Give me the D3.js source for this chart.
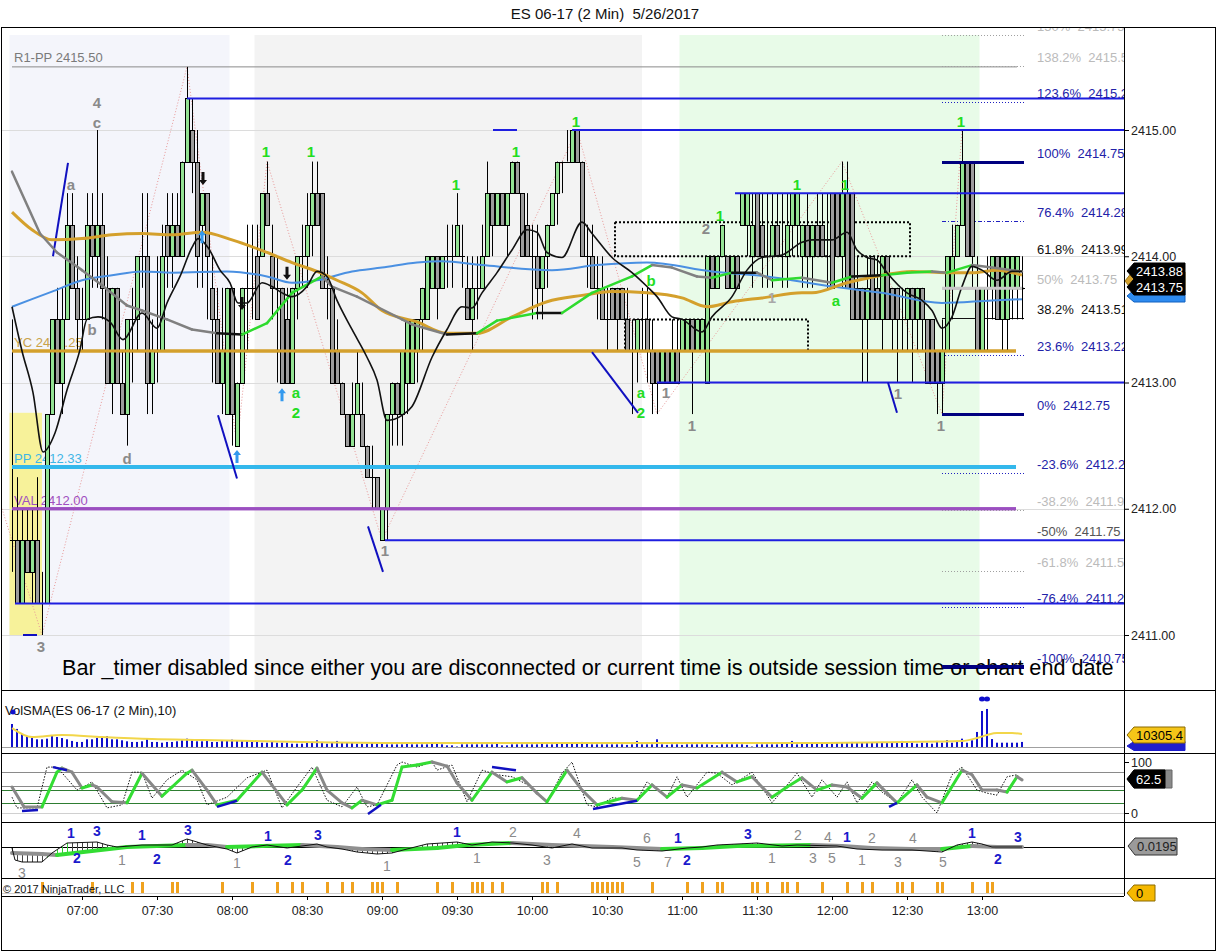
<!DOCTYPE html>
<html><head><meta charset="utf-8">
<script src="https://cdn.jsdelivr.net/npm/d3@7/dist/d3.min.js"></script>
<style>
html,body{margin:0;padding:0;background:#fff;}
svg{display:block;font-family:Arial,"Liberation Sans",Helvetica,sans-serif;}
text{white-space:pre;}
</style></head><body>
<svg id="chart" width="1217" height="952"></svg>
<script>
// ---------------- DATA ----------------
const barOpen=[2411.75,2411.75,2411.25,2411.75,2411.5,2411.75,2411.25,2411.25,2412.75,2413.5,
2413.0,2413.5,2414.25,2413.75,2413.5,2413.5,2414.25,2414.0,2414.25,2413.75,
2413.0,2413.75,2413.0,2412.75,2413.5,2413.5,2414.0,2414.0,2413.0,2413.25,
2413.25,2414.25,2414.0,2414.25,2414.0,2414.75,2415.0,2414.75,2414.25,2414.5,
2413.75,2413.5,2413.0,2412.75,2413.75,2412.5,2413.0,2413.75,2413.75,2414.0,
2414.0,2414.5,2414.0,2413.75,2413.75,2413.5,2413.0,2413.75,2414.0,2414.0,
2414.25,2414.5,2414.5,2413.75,2413.75,2413.25,2413.0,2412.75,2412.5,2412.75,
2412.75,2412.5,2412.25,2412.25,2411.75,2412.0,2412.75,2413.0,2412.75,2413.0,
2413.0,2413.25,2413.5,2413.5,2413.75,2414.0,2413.75,2414.0,2414.0,2414.0,
2414.0,2413.75,2413.5,2413.75,2413.75,2414.0,2414.5,2414.25,2414.5,2414.25,
2414.5,2414.75,2414.5,2414.25,2414.0,2414.0,2413.75,2414.0,2414.25,2414.5,
2414.75,2414.75,2414.75,2415.0,2414.75,2414.0,2414.0,2413.75,2413.75,2413.5,
2413.75,2413.75,2413.75,2413.5,2413.25,2413.25,2413.5,2413.5,2413.25,2413.25,
2413.0,2413.25,2413.0,2413.25,2413.25,2413.25,2413.5,2413.25,2413.25,2413.0,
2414.0,2413.75,2414.0,2414.0,2413.75,2414.0,2414.25,2414.25,2414.0,2414.5,
2414.25,2414.0,2414.0,2414.25,2414.0,2414.0,2414.25,2414.25,2414.0,2414.25,
2414.0,2414.25,2414.25,2414.0,2414.5,2414.5,2414.0,2414.5,2414.5,2413.75,
2413.75,2413.5,2414.0,2413.75,2413.5,2414.0,2413.75,2413.75,2413.5,2413.5,
2413.75,2413.5,2413.75,2413.5,2413.5,2413.25,2413.0,2413.25,2413.75,2414.0,
2414.25,2414.75,2414.75,2413.75,2413.25,2413.75,2413.75,2414.0,2413.5,2413.5,
2413.75,2413.75,2413.75];
const barHigh=[2413.5,2412.25,2412.0,2412.0,2412.0,2412.25,2411.5,2412.75,2413.5,2413.75,
2413.75,2414.5,2414.5,2414.0,2413.75,2414.5,2414.5,2415.0,2414.5,2414.0,
2413.75,2413.75,2413.25,2413.5,2413.75,2414.0,2414.5,2414.5,2413.5,2414.0,
2414.25,2414.5,2414.5,2414.5,2414.75,2415.5,2415.25,2415.0,2414.5,2414.5,
2414.0,2413.75,2413.75,2413.75,2413.75,2413.0,2413.75,2414.25,2414.25,2414.25,
2414.5,2414.75,2414.25,2414.0,2413.75,2413.75,2413.75,2414.0,2414.25,2414.5,
2414.75,2414.75,2414.5,2414.0,2413.75,2413.5,2413.0,2412.75,2413.0,2413.25,
2413.0,2412.5,2412.5,2412.25,2412.0,2412.75,2413.0,2413.0,2413.25,2413.5,
2413.5,2413.5,2413.75,2414.0,2414.0,2414.0,2414.0,2414.25,2414.25,2414.5,
2414.25,2414.0,2414.0,2414.0,2414.25,2414.75,2414.5,2414.5,2414.5,2414.5,
2414.75,2414.75,2414.5,2414.5,2414.25,2414.25,2414.0,2414.25,2414.5,2414.75,
2414.75,2415.0,2415.0,2415.0,2414.75,2414.25,2414.25,2414.0,2414.0,2413.75,
2413.75,2413.75,2413.75,2413.75,2413.5,2413.5,2413.75,2413.75,2413.5,2413.25,
2413.25,2413.25,2413.5,2413.5,2413.5,2413.5,2413.5,2413.5,2413.5,2414.0,
2414.0,2414.0,2414.25,2414.0,2414.0,2414.0,2414.5,2414.5,2414.5,2414.5,
2414.5,2414.5,2414.5,2414.5,2414.5,2414.5,2414.5,2414.5,2414.25,2414.5,
2414.25,2414.5,2414.5,2414.5,2414.5,2414.5,2414.75,2414.75,2414.5,2414.0,
2413.75,2414.0,2414.0,2414.0,2414.0,2414.0,2413.75,2413.75,2413.75,2413.75,
2413.75,2413.75,2413.75,2413.5,2413.5,2413.25,2413.5,2414.0,2414.25,2414.25,
2415.0,2414.75,2414.75,2414.0,2413.75,2414.0,2414.0,2414.0,2414.0,2414.0,
2414.0,2414.0,2414.0];
const barLow=[2411.5,2411.25,2411.25,2411.5,2411.25,2411.25,2411.0,2411.25,2412.75,2413.0,
2412.75,2413.5,2413.75,2413.25,2413.25,2413.5,2413.75,2413.75,2413.5,2413.0,
2412.75,2413.0,2412.75,2412.5,2413.0,2413.25,2413.75,2412.75,2412.75,2413.0,
2413.25,2413.75,2413.75,2414.0,2414.0,2414.75,2414.5,2413.75,2413.75,2413.5,
2413.0,2413.0,2412.75,2412.75,2412.5,2412.5,2413.0,2413.25,2413.5,2413.5,
2414.0,2414.25,2413.5,2413.0,2413.0,2413.0,2413.0,2413.5,2413.75,2413.75,
2414.0,2414.25,2413.75,2413.5,2413.0,2413.0,2412.75,2412.5,2412.5,2412.75,
2412.5,2412.25,2412.0,2412.0,2411.75,2411.75,2412.5,2412.5,2412.5,2412.75,
2413.0,2413.0,2413.25,2413.5,2413.75,2413.5,2413.75,2413.75,2413.75,2414.0,
2413.75,2413.5,2413.25,2413.5,2413.75,2414.0,2414.0,2414.25,2414.25,2414.0,
2414.5,2414.5,2414.0,2414.0,2413.5,2413.5,2413.5,2413.75,2414.25,2414.25,
2414.5,2414.75,2414.75,2414.75,2414.0,2413.75,2413.75,2413.5,2413.5,2413.25,
2413.5,2413.25,2413.5,2413.25,2412.75,2413.0,2413.25,2413.0,2412.75,2412.75,
2413.0,2413.0,2413.0,2413.0,2413.25,2413.25,2412.75,2413.25,2413.25,2413.0,
2413.75,2413.75,2414.0,2413.75,2413.75,2413.75,2414.25,2414.0,2413.75,2414.0,
2413.75,2413.75,2413.75,2414.0,2413.75,2413.75,2414.0,2414.0,2413.75,2413.75,
2413.75,2414.0,2414.0,2413.75,2413.75,2414.0,2413.75,2413.75,2413.5,2413.5,
2413.0,2413.0,2413.5,2413.5,2413.25,2413.5,2413.25,2413.0,2413.25,2413.25,
2413.0,2413.25,2413.25,2413.0,2413.0,2412.75,2412.75,2413.25,2413.5,2414.0,
2414.25,2414.0,2413.75,2413.25,2413.25,2413.25,2413.5,2413.5,2413.25,2413.25,
2413.5,2413.5,2413.5];
const barClose=[2411.75,2411.25,2411.75,2411.5,2411.75,2411.25,2411.25,2412.75,2413.5,2413.0,
2413.5,2414.25,2413.75,2413.5,2413.5,2414.25,2414.0,2414.25,2413.75,2413.0,
2413.75,2413.0,2412.75,2413.5,2413.5,2414.0,2414.0,2413.0,2413.25,2413.25,
2414.0,2414.0,2414.25,2414.0,2414.75,2415.25,2414.75,2414.0,2414.5,2414.0,
2413.5,2413.0,2413.25,2413.75,2412.75,2413.0,2413.75,2413.75,2413.75,2413.5,
2414.5,2414.25,2413.75,2413.75,2413.0,2413.0,2413.75,2414.0,2414.0,2414.25,
2414.5,2414.25,2413.75,2413.75,2413.0,2413.0,2412.75,2412.5,2412.75,2413.0,
2412.5,2412.25,2412.25,2412.0,2412.0,2412.75,2413.0,2412.75,2413.25,2413.5,
2413.5,2413.5,2413.75,2414.0,2414.0,2413.75,2414.0,2414.0,2414.0,2414.25,
2414.0,2413.5,2413.75,2413.75,2414.0,2414.5,2414.25,2414.5,2414.25,2414.5,
2414.75,2414.5,2414.0,2414.0,2414.0,2413.75,2414.0,2414.25,2414.5,2414.75,
2414.75,2414.75,2415.0,2414.75,2414.0,2414.0,2413.75,2413.75,2413.5,2413.5,
2413.5,2413.5,2413.5,2413.25,2413.25,2413.5,2413.5,2413.25,2413.0,2413.0,
2413.25,2413.0,2413.25,2413.0,2413.5,2413.5,2413.25,2413.5,2413.5,2414.0,
2413.75,2414.0,2414.25,2413.75,2414.0,2413.75,2414.5,2414.5,2414.25,2414.0,
2414.0,2414.0,2414.25,2414.0,2414.0,2414.25,2414.5,2414.5,2414.25,2414.0,
2414.25,2414.0,2414.0,2414.0,2413.75,2414.0,2414.5,2413.75,2413.5,2413.5,
2413.5,2413.75,2413.5,2413.5,2414.0,2413.5,2413.5,2413.5,2413.5,2413.75,
2413.5,2413.75,2413.5,2413.0,2413.0,2413.0,2413.25,2414.0,2414.0,2414.25,
2414.75,2414.0,2414.0,2413.25,2413.75,2413.75,2414.0,2413.5,2414.0,2414.0,
2414.0,2414.0,2413.75];
const barVolume=[18200,14300,10300,8700,7100,6100,6100,6600,9500,7900,
7100,6100,4800,4000,4000,6100,6100,7100,7900,8700,
6100,6100,5300,4500,4000,4000,4500,6600,4000,4000,
3400,4000,4000,4500,5300,6600,5300,4500,4500,5300,
4000,4000,5300,5300,5800,5300,4800,4800,4000,4000,
3400,3400,4500,3400,3400,3400,2600,2600,2600,3400,
4000,5300,4000,2600,3400,4800,3400,3400,3400,2600,
2600,2600,3400,2600,2600,2100,2100,2100,2100,2600,
2100,2100,2100,2100,2600,2600,2100,1300,1300,400,
2100,2100,2100,2100,2100,2100,2100,2600,1300,1300,
2100,2100,2100,2100,2100,2100,2600,2100,2100,2600,
2600,3400,2600,2600,4000,2600,2100,2100,2100,2100,
2100,2100,2100,1700,2100,4800,2100,2100,2100,6100,
2100,1700,2100,2100,1700,2100,2100,2100,2100,2100,
1700,1300,2100,2100,2100,2100,2100,1700,400,2100,
2100,2100,2100,2100,2600,2600,4800,2100,2600,2600,
2600,2600,3400,2600,2600,3400,3400,3400,4000,3400,
3400,3400,3400,3400,3400,3400,3400,3400,4800,3400,
3400,2600,3400,3400,2600,4800,3400,5500,3400,4800,
6600,3400,5300,11900,28500,30100,6300,3400,3400,3400,
3400,3400,4000];

// moving averages: [bar index, price]
const maBlack=[[0,2413.6],[2,2413.25],[4.2,2412.92],[6.2,2412.45],[8.6,2412.6],[11,2412.94],[13.6,2413.26],[15,2413.5],[17.2,2413.52],[19.6,2413.48],[22.2,2413.34],[26,2413.55],[29,2413.43],[31,2413.63],[33.6,2413.84],[36,2414.07],[37.2,2414.14],[39.2,2414.07],[41.6,2413.89],[43.6,2413.79],[45.2,2413.63],[47,2413.63],[50,2413.79],[52,2413.76],[54,2413.71],[56,2413.68],[59,2413.76],[61,2413.88],[63,2413.84],[65,2413.65],[68,2413.42],[71,2413.2],[73,2413.02],[75,2412.7],[78,2412.74],[80,2412.81],[84,2413.2],[87,2413.42],[90,2413.6],[92,2413.59],[94,2413.71],[97,2413.87],[100,2414.05],[103,2414.21],[105,2414.19],[107,2414.03],[110,2413.99],[114,2414.27],[116,2414.18],[120,2413.99],[124,2413.87],[127,2413.76],[129,2413.68],[132,2413.52],[134,2413.5],[138,2413.4],[140,2413.52],[144,2413.68],[147,2413.89],[150,2413.99],[154,2414.01],[158,2414.11],[160,2414.13],[164,2414.13],[167,2414.19],[169,2414.05],[171,2413.99],[173,2413.97],[175,2413.87],[179,2413.71],[182,2413.65],[184,2413.57],[186,2413.43],[188,2413.52],[190,2413.76],[192,2413.92],[194,2413.89],[197,2413.81],[200,2413.88],[202,2413.88]];
const maGray=[[0,2414.67],[5.6,2414.18],[9,2414.03],[14,2413.89],[18,2413.77],[23,2413.61],[26,2413.57],[31,2413.5],[36,2413.42],[41,2413.39],[46,2413.38],[51,2413.47],[56,2413.71],[62,2413.84],[64,2413.76],[69,2413.68],[73,2413.6],[78,2413.5],[80,2413.46],[87,2413.38],[93,2413.39],[97,2413.49],[105,2413.55],[110,2413.55],[116,2413.71],[124,2413.84],[128,2413.93],[132,2413.91],[137,2413.84],[140,2413.83],[144,2413.87],[149,2413.87],[152,2413.81],[158,2413.83],[164,2413.79],[168,2413.84],[174,2413.85],[179,2413.87],[184,2413.88],[187,2413.87],[192,2413.93],[196,2413.91],[202,2413.88]];
const maGold=[[0,2414.35],[4,2414.21],[8,2414.13],[14,2414.14],[20,2414.17],[26,2414.18],[32,2414.17],[38,2414.19],[44,2414.13],[51,2414.03],[56,2413.95],[61,2413.88],[65,2413.81],[70,2413.71],[74,2413.57],[81,2413.48],[87,2413.39],[93,2413.39],[100,2413.52],[107,2413.64],[114,2413.69],[120,2413.72],[127,2413.71],[134,2413.67],[139,2413.6],[144,2413.64],[150,2413.67],[158,2413.71],[160,2413.71],[167,2413.79],[174,2413.85],[180,2413.88],[187,2413.87],[192,2413.87],[197,2413.89],[202,2413.85]];
const maBlue=[[0,2413.6],[8,2413.72],[14,2413.81],[20,2413.85],[26,2413.88],[32,2413.87],[43,2413.88],[51,2413.84],[56,2413.79],[61,2413.81],[68,2413.88],[74,2413.91],[81,2413.95],[86,2413.96],[94,2413.93],[108,2413.89],[117,2413.93],[127,2413.95],[140,2413.88],[151,2413.84],[164,2413.76],[174,2413.71],[186,2413.63],[196,2413.65],[202,2413.66]];

const volSma=[[0,15000],[4,7900],[10,9500],[18,7900],[28,6300],[38,5500],[48,4700],[58,4000],[78,3200],[98,3200],[118,3200],[138,3200],[158,3200],[178,4000],[190,4700],[193,7100],[195,9500],[197,11000],[200,11000],[202,10300]];
const stochD=[[0,51],[2.4,12],[6,12],[9,80],[10,88],[12,80],[14,49],[16,55],[17,51],[20,22],[23,20],[26,78],[30,33],[32,51],[35,78],[36,84],[39,45],[41,16],[45,25],[50,80],[55,16],[58,45],[61,88],[63,45],[66,20],[68,10],[70,25],[73,16],[76,25],[78,90],[81,94],[84,100],[87,92],[89,59],[92,25],[96,80],[99,61],[102,69],[105,39],[107,22],[111,84],[114,45],[117,16],[122,29],[125,25],[128,55],[131,31],[134,55],[137,49],[142,80],[145,61],[148,71],[152,31],[155,51],[158,69],[161,45],[164,55],[167,51],[170,29],[173,59],[175,39],[177,20],[181,55],[183,31],[186,20],[190,84],[192,75],[194,45],[197,45],[199,41],[201,71],[202,65]];
const stochK=[[0,31],[1,10],[5,10],[7,90],[9,90],[13,45],[15,55],[16,61],[19,10],[22,16],[24,80],[26,80],[28,29],[31,65],[34,84],[37,65],[39,16],[43,31],[47,69],[51,84],[54,10],[57,51],[60,90],[63,25],[66,12],[69,51],[71,12],[73,16],[77,94],[78,100],[81,90],[84,100],[85,84],[88,94],[91,22],[94,84],[97,75],[100,71],[104,51],[107,22],[110,78],[112,100],[115,16],[117,12],[120,30],[125,25],[127,61],[131,31],[133,71],[135,31],[139,80],[141,78],[144,55],[148,80],[152,20],[157,78],[160,31],[162,65],[165,31],[167,61],[169,20],[172,61],[174,41],[177,20],[180,65],[182,31],[185,0],[188,75],[190,90],[193,45],[195,39],[197,35],[199,71],[201,75],[202,65]];
const stochDiv=[[2,4,5.2,6],[8.2,90,11,84],[41,12,45,24],[71.2,-2,73.8,16],[96,90,100.8,84],[116.2,8,125,24],[175.4,12,177,20]];
const stochLevels=[80,53,45,20,0];
const macdLine=[[0,-0.005],[0.6,-0.065],[2,-0.075],[6,-0.075],[8,-0.03],[11,0.02],[17,0.025],[19,0.01],[21,0.0],[26,0.01],[32,0.01],[35,0.04],[37,0.025],[39,0.01],[43,-0.01],[45,-0.03],[48,0.0],[51,0.01],[55,-0.005],[61,0.015],[63,0.0],[66,-0.01],[69,-0.025],[73,-0.035],[76,-0.03],[79,-0.01],[83,0.015],[89,0.025],[92,0.01],[96,0.025],[100,0.02],[104,0.01],[108,-0.005],[112,0.015],[116,-0.005],[122,-0.005],[125,-0.015],[130,-0.02],[135,-0.005],[138,0.0],[141,0.01],[145,0.015],[149,0.02],[154,0.005],[157,0.01],[165,0.005],[169,-0.01],[174,-0.015],[180,-0.015],[186,-0.025],[189,0.01],[192,0.025],[194,0.015],[196,0.0],[202,0.0]];
const macdSignal=[[0,-0.03],[6,-0.035],[9,-0.04],[23,0.0],[35,0.01],[39,0.01],[43,0.0],[50,0.005],[58,0.01],[65,0.0],[70,-0.01],[76,-0.015],[85,-0.005],[91,0.01],[100,0.02],[108,0.01],[120,0.0],[130,-0.01],[138,-0.005],[145,0.005],[160,0.01],[166,0.005],[172,-0.005],[180,-0.01],[186,-0.01],[192,0.005],[197,0.0],[202,0.0]];
const macdLabels=[["1",11.8,0.07,"b"],["3",17,0.078,"b"],["2",13,-0.055,"b"],["1",22,-0.065,"g"],["1",26,0.06,"b"],["3",35.2,0.085,"b"],["2",29,-0.06,"b"],["1",45,-0.08,"g"],["1",51.2,0.055,"b"],["3",61.2,0.06,"b"],["2",55.2,-0.065,"b"],["1",75,-0.095,"g"],["1",89,0.075,"b"],["2",100.2,0.075,"g"],["1",93,-0.055,"g"],["4",113,0.07,"g"],["3",107,-0.065,"g"],["3",2,-0.128,"g"],["6",127,0.045,"g"],["1",133.2,0.045,"b"],["5",125,-0.075,"g"],["7",131.2,-0.075,"g"],["2",135,-0.065,"b"],["3",147.2,0.065,"b"],["2",157.2,0.06,"g"],["4",163.2,0.05,"g"],["1",167,0.05,"b"],["2",172,0.045,"g"],["4",180.2,0.045,"g"],["1",152,-0.055,"g"],["3",160.2,-0.055,"g"],["5",164,-0.055,"g"],["1",170,-0.065,"g"],["3",177.2,-0.075,"g"],["5",186.2,-0.075,"g"],["1",192,0.07,"b"],["3",201.2,0.05,"b"],["2",197.2,-0.06,"b"]];
const signalTicks=[6,16,24,26,32,33,42,48,53,56,58,63,66,68,72,73,74,77,85,88,92,93,94,96,98,106,107,109,116,117,118,119,120,121,122,128,135,138,141,142,148,149,151,154,155,157,162,167,170,172,177,178,180,185,186,192,195,196];

const timeTicks=["07:00","07:30","08:00","08:30","09:00","09:30","10:00","10:30","11:00","11:30","12:00","12:30","13:00"];
const priceTicks=[2411,2412,2413,2414,2415];
const sessionStart=["06:31","08:09","10:59"], sessionEnd=["07:59","10:44","12:59"];
const pivotNames=["R1-PP","YC","PP","VAL"], pivotValues=[2415.50,2413.25,2412.33,2412.00];
const fibPct=["150%","138.2%","123.6%","100%","76.4%","61.8%","50%","38.2%","23.6%","0%","-23.6%","-38.2%","-50%","-61.8%","-76.4%","-100%"];
const fibPrice=[2415.75,2415.51,2415.22,2414.75,2414.28,2413.99,2413.75,2413.51,2413.22,2412.75,2412.28,2411.99,2411.75,2411.51,2411.22,2410.75];
const swingRays=[[35,2415.25],[112,2415.0],[144.6,2414.5],[129,2413.0],[74.6,2411.75],[0.6,2411.25]];
const swingSegs=[[96.2,101,2415.0]];
const trendLines=[[8.2,2414.0,11.2,2414.74],[2.2,2411.0,5,2411.0],[41.2,2412.74,45,2412.24],[71.2,2411.86,74.2,2411.5],[116,2413.24,125.2,2412.76],[175.2,2413.0,177,2412.76]];
const zigzag=[[-2,2412.0],[6,2411.0],[35,2415.5],[45,2412.5],[51,2414.75],[74,2411.75],[113,2415.0],[129,2412.75],[166,2414.75],[186,2412.75],[190,2415.0]];
const zoneBoxes=[[120.6,179.6,2414.0,2414.27],[122.6,159.2,2413.25,2413.5]];
const yellowZone=[["06:31","06:44"],[2411.0,2412.76]];
const waveLabels=[["4",17,2415.22,"n"],["c",17,2415.06,"n"],["a",11.8,2414.57,"n"],["b",16,2413.42,"n"],["d",23,2412.40,"n"],["3",5.8,2410.91,"n"],["1",74.6,2411.67,"n"],["1",130.8,2412.92,"n"],["1",136,2412.66,"n"],["2",138.8,2414.22,"n"],["1",152,2413.67,"l"],["1",177.2,2412.91,"n"],["1",185.8,2412.66,"n"],
["1",50.8,2414.83,"g"],["1",59.8,2414.83,"g"],["1",88.8,2414.57,"g"],["1",100.8,2414.83,"g"],["1",112.8,2415.07,"g"],["1",141.6,2414.32,"g"],["1",157,2414.57,"g"],["1",166.6,2414.57,"g"],["1",189.8,2415.07,"g"],
["a",56.8,2412.92,"g"],["2",56.8,2412.76,"g"],["a",125.8,2412.92,"g"],["2",125.8,2412.76,"g"],["b",127.8,2413.81,"g"],["a",164.8,2413.65,"g"]];
const upArrows=[[38,2414.15],[45,2412.41],[54,2412.9]];
const downArrows=[[38.2,2414.62],[46,2413.63],[55,2413.87]];

// ---------------- SCALES ----------------
const svg=d3.select("#chart");
const parseT=d3.timeParse("%H:%M");
const x=d3.scaleLinear().domain([0,202]).range([12,1022]);
const tx=d3.scaleTime().domain([parseT("06:32"),parseT("13:16")]).range([12,1022]);
const y=d3.scaleLinear().domain([2411,2415]).range([635,130]);
const yV=d3.scaleLinear().domain([0,37200]).range([747,700]);
const yS=d3.scaleLinear().domain([0,100]).range([813,762]);
const yM=d3.scaleLinear().domain([-0.1,0.1]).range([867,827]);
const PR=1124;

const defs=svg.append("defs");
function clip(id,x0,y0,w,h){defs.append("clipPath").attr("id",id).append("rect").attr("x",x0).attr("y",y0).attr("width",w).attr("height",h);}
clip("cp",1,28,PR-1,662);clip("cv",1,691,PR-1,62);clip("cs",1,754,PR-1,68);clip("cm",1,823,PR-1,55);

svg.append("rect").attr("width",1217).attr("height",952).attr("fill","#fff");
svg.append("text").attr("x",605).attr("y",19).attr("text-anchor","middle").attr("font-size",15).attr("fill","#111").text("ES 06-17 (2 Min)  5/26/2017");

// ---------------- PRICE PANEL ----------------
const pg=svg.append("g").attr("clip-path","url(#cp)");
const sessColors=["#F4F5FB","#F3F3F3","#E8FBE8"];
sessionStart.forEach((s,k)=>{pg.append("rect").attr("x",tx(parseT(s))).attr("y",35).attr("width",tx(parseT(sessionEnd[k]))-tx(parseT(s))).attr("height",660).attr("fill",sessColors[k]);});
pg.append("rect").attr("x",tx(parseT(yellowZone[0][0]))).attr("y",y(yellowZone[1][1])).attr("width",tx(parseT(yellowZone[0][1]))-tx(parseT(yellowZone[0][0]))).attr("height",y(yellowZone[1][0])-y(yellowZone[1][1])).attr("fill","#F7F29A");
priceTicks.forEach(p=>pg.append("line").attr("x1",1).attr("x2",PR).attr("y1",Math.round(y(p))+0.5).attr("y2",Math.round(y(p))+0.5).attr("stroke","#DCDCDC"));
const pivStyle={"R1-PP":["#8A8A8A",1,"#7A7A7A"],"YC":["#D4A02C",3,"#C9A24A"],"PP":["#33B8EC",4,"#3FB6E6"],"VAL":["#9B4FC0",3,"#A050C0"]};
pivotNames.forEach((n,k)=>{const st=pivStyle[n];const yy=y(pivotValues[k]);
  pg.append("line").attr("x1",x(0)).attr("x2",x(n==="R1-PP"?201:200.8)).attr("y1",yy).attr("y2",yy).attr("stroke",st[0]).attr("stroke-width",st[1]);
  pg.append("text").attr("x",14).attr("y",yy-(n==="R1-PP"?5:4)).attr("font-size",13).attr("fill",st[2]).text(n+" "+pivotValues[k].toFixed(2));
});
zoneBoxes.forEach(b=>pg.append("rect").attr("x",x(b[0])).attr("y",y(b[3])).attr("width",x(b[1])-x(b[0])).attr("height",y(b[2])-y(b[3])).attr("fill","none").attr("stroke","#000").attr("stroke-width",2).attr("stroke-dasharray","2,2"));
pg.append("path").attr("d",d3.line().x(d=>x(d[0])).y(d=>y(d[1]))(zigzag)).attr("fill","none").attr("stroke","#E89898").attr("stroke-width",1).attr("stroke-dasharray","1,2");
const fibStyle={"150%":["#A0A0A0",1,"1,2","#BBBBBB"],"138.2%":["#A0A0A0",1,"1,2","#BBBBBB"],"123.6%":["#2020C0",1,"1,2","#2222A8"],"100%":["#000080",3,null,"#2222A8"],"76.4%":["#2020C0",1,"4,2,1,2","#2222A8"],"61.8%":[null,0,null,"#111"],"50%":["#C8C8C8",3,null,"#BBBBBB"],"38.2%":["#111",1,null,"#111"],"23.6%":["#2020C0",1,"1,2","#2222A8"],"0%":["#000080",3,null,"#2222A8"],"-23.6%":["#2020C0",1,"1,2","#2222A8"],"-38.2%":["#A0A0A0",1,"1,2","#BBBBBB"],"-50%":["#2020C0",1,"1,2","#555"],"-61.8%":["#A0A0A0",1,"1,2","#BBBBBB"],"-76.4%":["#2020C0",1,"1,2","#2222A8"],"-100%":["#000080",3,null,"#2222A8"]};
fibPct.forEach((f,k)=>{const st=fibStyle[f];const yy=Math.round(y(fibPrice[k]))+0.5;
  if(st[0]){const l=pg.append("line").attr("x1",x(186)).attr("x2",x(202.4)).attr("y1",yy).attr("y2",yy).attr("stroke",st[0]).attr("stroke-width",st[1]);if(st[2])l.attr("stroke-dasharray",st[2]);}
});
const cg=pg.append("g");
barOpen.forEach((o,i)=>{const cx=Math.round(x(i))+0.5,h=barHigh[i],l=barLow[i],c=barClose[i];
  cg.append("line").attr("x1",cx).attr("x2",cx).attr("y1",y(h)).attr("y2",y(l)).attr("stroke","#000").attr("stroke-width",1);
  if(c===o){const yy=Math.round(y(c))+0.5;cg.append("line").attr("x1",cx-2.5).attr("x2",cx+2.5).attr("y1",yy).attr("y2",yy).attr("stroke","#000");}
  else{const t=Math.round(y(Math.max(o,c))),b=Math.round(y(Math.min(o,c)));
    cg.append("rect").attr("x",cx-2).attr("y",t+0.5).attr("width",4).attr("height",b-t).attr("fill",c>o?"#93E293":"#9C9C9C").attr("stroke","#000").attr("stroke-width",1);}
});
pivotNames.forEach((n,k)=>{if(n==="R1-PP")return;const st=pivStyle[n];const yy=y(pivotValues[k]);
  pg.append("line").attr("x1",x(0)).attr("x2",x(200.8)).attr("y1",yy).attr("y2",yy).attr("stroke",st[0]).attr("stroke-width",st[1]);});
swingRays.forEach(r=>pg.append("line").attr("x1",x(r[0])).attr("x2",PR).attr("y1",y(r[1])).attr("y2",y(r[1])).attr("stroke","#1E1EE0").attr("stroke-width",2));
swingSegs.forEach(r=>pg.append("line").attr("x1",x(r[0])).attr("x2",x(r[1])).attr("y1",y(r[2])).attr("y2",y(r[2])).attr("stroke","#1E1EE0").attr("stroke-width",2));
trendLines.forEach(t=>pg.append("line").attr("x1",x(t[0])).attr("y1",y(t[1])).attr("x2",x(t[2])).attr("y2",y(t[3])).attr("stroke","#1010C0").attr("stroke-width",2));
fibPct.forEach((f,k)=>{const st=fibStyle[f];if(st[1]===3&&f!=="50%"){const yy=Math.round(y(fibPrice[k]))+0.5;pg.append("line").attr("x1",x(186)).attr("x2",x(202.4)).attr("y1",yy).attr("y2",yy).attr("stroke",st[0]).attr("stroke-width",3);}});
const lineGen=d3.line().x(d=>x(d[0])).y(d=>y(d[1])).curve(d3.curveMonotoneX);
pg.append("path").attr("d",lineGen(maBlue)).attr("fill","none").attr("stroke","#4A90E2").attr("stroke-width",2);
pg.append("path").attr("d",lineGen(maGold)).attr("fill","none").attr("stroke","#D4A02C").attr("stroke-width",3);
function multiSeg(g,pts,sx,sy,w,colors,thr){for(let k=0;k<pts.length-1;k++){const a=pts[k],b=pts[k+1];const s=(b[1]-a[1])/(b[0]-a[0]);
  const col=s>thr?colors[0]:(s<-thr?colors[1]:colors[2]);
  g.append("line").attr("x1",sx(a[0])).attr("y1",sy(a[1])).attr("x2",sx(b[0])).attr("y2",sy(b[1])).attr("stroke",col).attr("stroke-width",w).attr("stroke-linecap","round");}}
multiSeg(pg,maGray,x,y,2.5,["#2EDB2E","#808080","#111"],0.002);
pg.append("path").attr("d",lineGen(maBlack)).attr("fill","none").attr("stroke","#111").attr("stroke-width",1.6);
upArrows.forEach(a=>{const ax=x(a[0]),ay=y(a[1]);pg.append("path").attr("d",`M${ax},${ay-7}L${ax+4},${ay-2}L${ax+1.5},${ay-2}L${ax+1.5},${ay+6}L${ax-1.5},${ay+6}L${ax-1.5},${ay-2}L${ax-4},${ay-2}Z`).attr("fill","#3399EE");});
downArrows.forEach(a=>{const ax=x(a[0]),ay=y(a[1]);pg.append("path").attr("d",`M${ax},${ay+7}L${ax+4},${ay+2}L${ax+1.5},${ay+2}L${ax+1.5},${ay-6}L${ax-1.5},${ay-6}L${ax-1.5},${ay+2}L${ax-4},${ay+2}Z`).attr("fill","#111");});
const wlCol={n:"#8A8A8A",g:"#22DD22",l:"#A8A8A8"};
waveLabels.forEach(w=>pg.append("text").attr("x",x(w[1])).attr("y",y(w[2])).attr("dy","0.36em").attr("text-anchor","middle").attr("font-size",15).attr("font-weight","bold").attr("fill",wlCol[w[3]]).text(w[0]));
fibPct.forEach((f,k)=>{const st=fibStyle[f];pg.append("text").attr("x",1037).attr("y",Math.round(y(fibPrice[k]))-4).attr("font-size",13).attr("fill",st[3]).text(f+"  "+fibPrice[k].toFixed(2));});
pg.append("text").attr("x",62).attr("y",675).attr("font-size",21.6).attr("fill","#000").text("Bar _timer disabled since either you are disconnected or current time is outside session time or chart end date");
pg.append("line").attr("x1",x(186)).attr("x2",x(202.4)).attr("y1",y(2410.75)).attr("y2",y(2410.75)).attr("stroke","#000080").attr("stroke-width",3);
pg.append("line").attr("x1",x(186)).attr("x2",x(202)).attr("y1",y(2413.75)+0.5).attr("y2",y(2413.75)+0.5).attr("stroke","#C8C8C8").attr("stroke-width",3);

const pa=svg.append("g").attr("transform",`translate(${PR},0)`).call(d3.axisRight(y).tickValues(priceTicks).tickFormat(d3.format(".2f")).tickSize(5).tickPadding(2));
pa.select(".domain").remove();pa.selectAll("text").attr("font-size",12.5).attr("fill","#222").attr("font-family","Arial, Liberation Sans");
function tag(x0,x1,yc,h,fill,stroke,txt,tcol){svg.append("path").attr("d",`M${x0},${yc}L${x0+7},${yc-h/2}L${x1},${yc-h/2}L${x1},${yc+h/2}L${x0+7},${yc+h/2}Z`).attr("fill",fill).attr("stroke",stroke);
  if(txt)svg.append("text").attr("x",x0+9).attr("y",yc+4.5).attr("font-size",13).attr("fill",tcol).text(txt);}
tag(1125,1185,281,18,"#D4A02C","#9a7a20","","#000");
tag(1127,1185,296,12,"#2E8BEF","#1060c0","","#fff");
tag(1127,1185,271,16,"#000","#000",(maBlack[maBlack.length-1][1]).toFixed(2),"#fff");
tag(1127,1185,287,16,"#000","#000",barClose[barClose.length-1].toFixed(2),"#fff");

// ---------------- VOLUME ----------------
const vg=svg.append("g").attr("clip-path","url(#cv)");
vg.append("line").attr("x1",1).attr("x2",PR).attr("y1",747.5).attr("y2",747.5).attr("stroke","#A0A0A0");
barVolume.forEach((v,i)=>vg.append("rect").attr("x",Math.round(x(i))-1).attr("y",yV(v)).attr("width",2).attr("height",747-yV(v)).attr("fill","#1010CC"));
vg.append("path").attr("d",d3.line().x(d=>x(d[0])).y(d=>yV(d[1])).curve(d3.curveMonotoneX)(volSma)).attr("fill","none").attr("stroke","#F2D64A").attr("stroke-width",2);
[194,195].forEach(i=>vg.append("ellipse").attr("cx",x(i)).attr("cy",699).attr("rx",3).attr("ry",2.5).attr("fill","#1010CC"));
svg.append("text").attr("x",5).attr("y",715).attr("font-size",13).attr("fill","#111").text("VolSMA(ES 06-17 (2 Min),10)");
svg.append("circle").attr("cx",13).attr("cy",712).attr("r",2.5).attr("fill","#1010CC");
tag(1127,1185,746,9,"#1E1ECC","#1E1ECC","","#fff");
tag(1127,1185,735,16,"#F5C518","#8a6a00","10305.4","#000");

// ---------------- STOCHASTIC ----------------
const sg=svg.append("g").attr("clip-path","url(#cs)");
const slCol={80:"#8A8A8A",53:"#8A8A8A",45:"#2E7D32",20:"#2E7D32",0:"#D0D0D0"};
stochLevels.forEach(v=>sg.append("line").attr("x1",1).attr("x2",PR).attr("y1",Math.round(yS(v))+0.5).attr("y2",Math.round(yS(v))+0.5).attr("stroke",slCol[v]));
sg.append("path").attr("d",d3.line().x(d=>x(d[0])).y(d=>yS(d[1]))(stochK)).attr("fill","none").attr("stroke","#111").attr("stroke-width",1).attr("stroke-dasharray","1.5,1.5");
multiSeg(sg,stochD,x,yS,3,["#33DD33","#888888","#888888"],0);
stochDiv.forEach(d=>sg.append("line").attr("x1",x(d[0])).attr("y1",yS(d[1])).attr("x2",x(d[2])).attr("y2",yS(d[3])).attr("stroke","#1010C0").attr("stroke-width",2.5));
const sa=svg.append("g").attr("transform",`translate(${PR},0)`).call(d3.axisRight(yS).tickValues([0,100]).tickSize(5).tickPadding(2));
sa.select(".domain").remove();sa.selectAll("text").attr("font-size",12.5).attr("fill","#222");
tag(1127,1172,779,18,"#8A8A8A","#666","","#000");
tag(1127,1165,779,18,"#000","#000","62.5","#fff");

// ---------------- MACD ----------------
const mg=svg.append("g").attr("clip-path","url(#cm)");
mg.append("line").attr("x1",1).attr("x2",PR).attr("y1",847.5).attr("y2",847.5).attr("stroke","#000");
function interp(arr,i){for(let k=0;k<arr.length-1;k++){if(i>=arr[k][0]&&i<=arr[k+1][0]){const t=(i-arr[k][0])/(arr[k+1][0]-arr[k][0]);return arr[k][1]+t*(arr[k+1][1]-arr[k][1]);}}return arr[arr.length-1][1];}
d3.range(0,203).forEach(i=>{const a=interp(macdLine,i),b=interp(macdSignal,i);const cx=Math.round(x(i))+0.5;
  mg.append("line").attr("x1",cx).attr("x2",cx).attr("y1",yM(a)).attr("y2",yM(b)).attr("stroke",i>6&&i<12?"#33CC33":"#444").attr("stroke-width",1);});
multiSeg(mg,macdSignal,x,yM,4,["#33DD33","#909090","#909090"],0);
mg.append("path").attr("d",d3.line().x(d=>x(d[0])).y(d=>yM(d[1]))(macdLine)).attr("fill","none").attr("stroke","#111").attr("stroke-width",1);
macdLabels.forEach(l=>mg.append("text").attr("x",x(l[1])).attr("y",yM(l[2])).attr("dy","0.36em").attr("text-anchor","middle").attr("font-size",14).attr("font-weight",l[3]==="b"?"bold":"normal").attr("fill",l[3]==="b"?"#1A1ACC":"#8A8A8A").text(l[0]));
svg.append("path").attr("d","M1128,846L1135,838L1177,838L1177,855L1135,855Z").attr("fill","#9A9A9A").attr("stroke","#333");
svg.append("text").attr("x",1137).attr("y",851).attr("font-size",13).attr("fill","#222").text("0.0195");

// ---------------- SIGNAL TICKS ----------------
svg.append("line").attr("x1",1).attr("x2",PR).attr("y1",893.5).attr("y2",893.5).attr("stroke","#D0D0D0");
signalTicks.forEach(i=>svg.append("rect").attr("x",Math.round(x(i))-1).attr("y",882).attr("width",3).attr("height",11).attr("fill","#F0A21E"));
svg.append("text").attr("x",3).attr("y",893).attr("font-size",11).attr("fill","#111").text("© 2017 NinjaTrader, LLC");
tag(1127,1155,893,16,"#F5B800","#8a6a00","0","#000");

// ---------------- TIME AXIS & FRAME ----------------
const ta=svg.append("g").attr("transform","translate(0,896)").call(d3.axisBottom(tx).tickValues(timeTicks.map(parseT)).tickFormat(d3.timeFormat("%H:%M")).tickSize(4).tickPadding(6));
ta.select(".domain").remove();ta.selectAll("text").attr("font-size",12.5).attr("fill","#222");
svg.append("line").attr("x1",1).attr("x2",PR).attr("y1",896.5).attr("y2",896.5).attr("stroke","#000");
[690.5,753.5,822.5,878.5].forEach(yy=>svg.append("line").attr("x1",1).attr("x2",1216).attr("y1",yy).attr("y2",yy).attr("stroke","#000"));
svg.append("line").attr("x1",PR+0.5).attr("x2",PR+0.5).attr("y1",27).attr("y2",896).attr("stroke","#000");
svg.append("rect").attr("x",1.5).attr("y",27.5).attr("width",1214).attr("height",923).attr("fill","none").attr("stroke","#000");
</script></body></html>
